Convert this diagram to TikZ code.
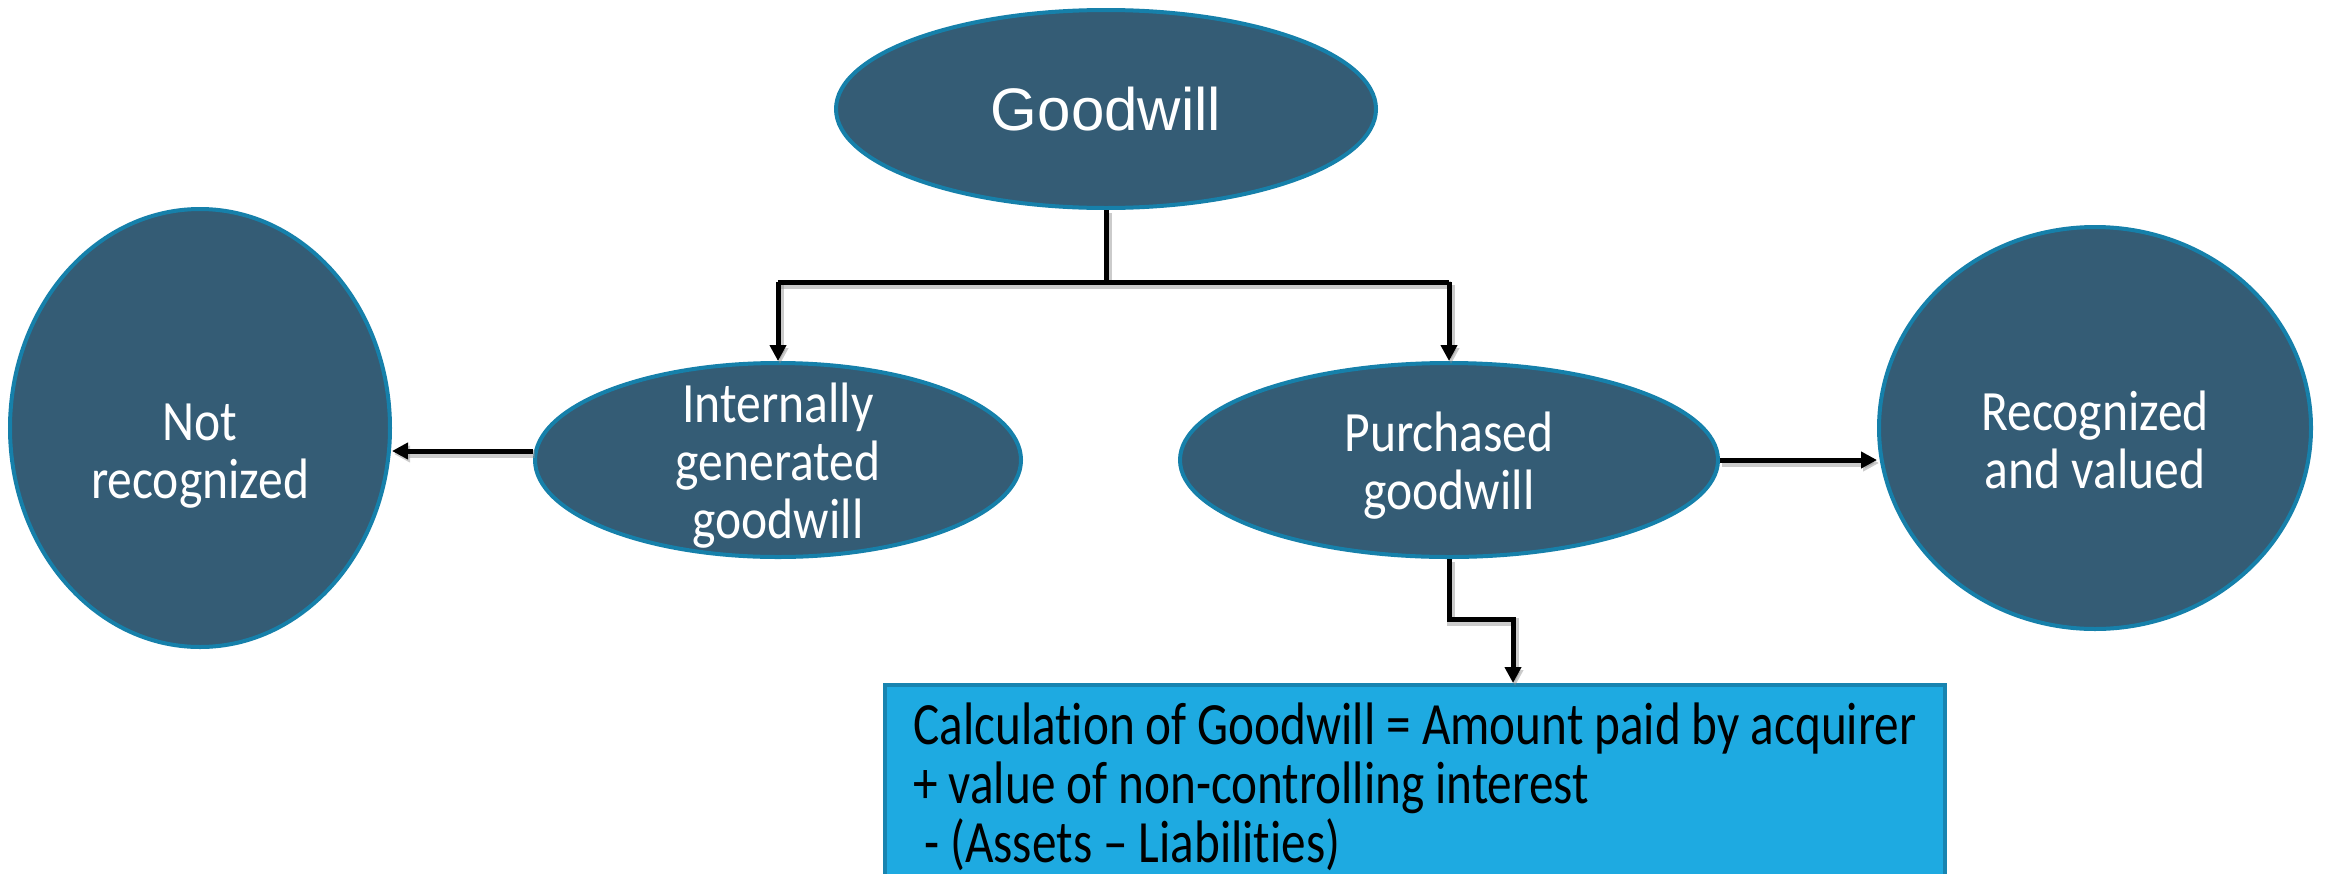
\documentclass[tikz,border=0pt]{standalone}
\usepackage{fontspec}
\setmainfont{Carlito}
\newfontfamily\headfont{Liberation Sans}
\newfontfamily\condfont[FakeStretch=0.87, Ligatures={TeX,NoCommon}]{Carlito}
\newfontfamily\narrowfont[FakeStretch=0.82, Ligatures={TeX,NoCommon}]{Carlito}
\usetikzlibrary{arrows.meta,shapes.geometric}

% condensed text with tighter word spacing
\newcommand\ovaltext{\condfont\fontsize{57}{58}\selectfont\spaceskip 11pt\relax}
\newcommand\calctext{\narrowfont\fontsize{60}{59}\selectfont\spaceskip 11pt\relax}

\definecolor{nodefill}{RGB}{52,92,117}
\definecolor{nodeedge}{RGB}{22,128,170}
\definecolor{calcfill}{RGB}{30,170,225}
\definecolor{calcedge}{RGB}{24,132,176}

\tikzset{
  oval/.style={ellipse, draw=nodeedge, line width=4pt, fill=nodefill, inner sep=0pt},
  ovallabel/.style={text=white, align=center, inner sep=0pt, font=\ovaltext},
  calcbox/.style={rectangle, draw=calcedge, line width=4pt, fill=calcfill,
    text=black, align=left, inner xsep=22pt, inner ysep=0pt, font=\calctext},
  shade line/.style={preaction={draw=black!45, opacity=0.45, line width=8pt,
    transform canvas={shift={(2pt,-3pt)}}}},
  link/.style={draw=black, line width=5pt, shade line},
  arrowlink/.style={link, -{Triangle[length=16pt,width=16pt]}}
}

\begin{document}
\begin{tikzpicture}[x=1pt,y=-1pt]
  \useasboundingbox (0,0) rectangle (2328,873);
  \clip (0,0) rectangle (2328,873);

  % nodes
  \node[oval, minimum width=540pt, minimum height=198pt, text=white,
        font=\headfont\fontsize{60}{66}\selectfont] (gw) at (1106,109) {Goodwill};
  \node[oval, minimum width=486pt, minimum height=194pt,
        label={[ovallabel, yshift=-6pt]center:{Internally\\generated\\goodwill}}]
        (ig) at (778,460) {};
  \node[oval, minimum width=538pt, minimum height=194pt,
        label={[ovallabel, yshift=-6pt]center:{Purchased\\goodwill}}]
        (pg) at (1449,460) {};
  \node[oval, minimum width=380pt, minimum height=438pt,
        label={[ovallabel, yshift=-28pt]center:{Not\\recognized}}]
        (nr) at (200,428) {};
  \node[oval, minimum width=432pt, minimum height=402pt,
        label={[ovallabel, yshift=-12pt]center:{Recognized\\and valued}}]
        (rv) at (2095,428) {};
  \node[calcbox, anchor=north west, minimum width=1060pt, minimum height=204pt]
        (calc) at (883,683)
        {Calculation of Goodwill = Amount paid by acquirer\\
         + value of non-controlling interest\\
         \ - (Assets – Liabilities)};

  % connectors
  \coordinate (bus) at (1106,282);
  \coordinate (jog) at (1513,619);
  \draw[link] (gw.south) -- (bus);
  \draw[link] (ig.north |- bus) -- (pg.north |- bus);
  \draw[arrowlink] (ig.north |- bus) -- (ig.north);
  \draw[arrowlink] (pg.north |- bus) -- (pg.north);
  \draw[arrowlink] ([yshift=9pt]ig.west) -- ([yshift=9pt]ig.west -| nr.east);
  \draw[arrowlink] (pg.east) -- (pg.east -| rv.west);
  \draw[arrowlink] (pg.south) |- (jog) -- (jog |- calc.north);
\end{tikzpicture}
\end{document}
